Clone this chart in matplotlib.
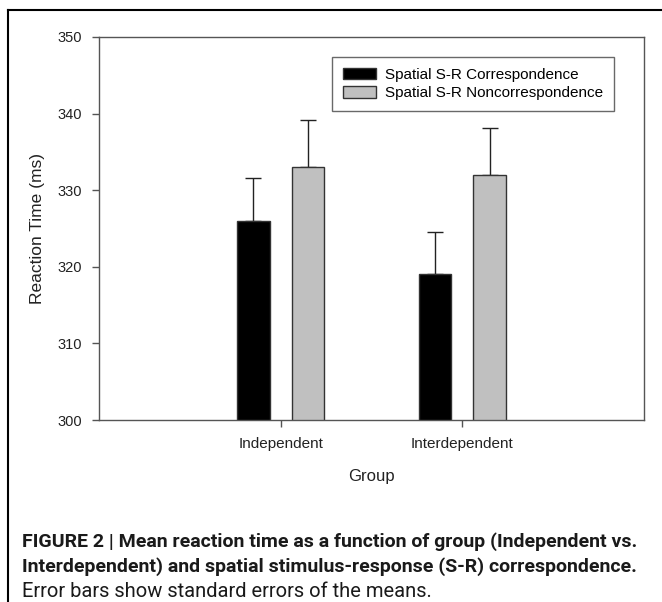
import numpy as np
import matplotlib.pyplot as plt
from matplotlib.lines import Line2D

groups = ['Independent', 'Interdependent']
series = ['Spatial S-R Correspondence', 'Spatial S-R Noncorrespondence']
corr_rt = [326, 319]
corr_se = [5.6, 5.6]
noncorr_rt = [333, 332]
noncorr_se = [6.1, 6.1]

W, H = 662, 602
fig = plt.figure(figsize=(W / 100, H / 100), dpi=100)
plt.rcParams['font.family'] = ['Liberation Sans', 'DejaVu Sans']

# axes placed in pixel coords from the reference
ax = fig.add_axes([99 / W, 1 - 420 / H, (644 - 99) / W, (420 - 37) / H])

x = np.arange(1, len(groups) + 1)
bw = 0.18
off = 0.15
edge = '#333333'
ax.bar(x - off, corr_rt, bw, color='black', edgecolor=edge, linewidth=1,
       label=series[0], zorder=2)
ax.bar(x + off, noncorr_rt, bw, color='#c0c0c0', edgecolor=edge, linewidth=1,
       label=series[1], zorder=2)
ax.errorbar(x - off, corr_rt, yerr=[np.zeros(2), corr_se], fmt='none', ecolor='#222222',
            elinewidth=1, capsize=5.5, capthick=1, zorder=1)
ax.errorbar(x + off, noncorr_rt, yerr=[np.zeros(2), noncorr_se], fmt='none', ecolor='#222222',
            elinewidth=1, capsize=5.5, capthick=1, zorder=1)

ax.set_xlim(0, 3)
ax.set_ylim(300, 350)
ax.set_yticks(np.arange(300, 351, 10))
ax.set_xticks(x)
ax.set_xticklabels(groups)
for s in ax.spines.values():
    s.set_color('#555555')
    s.set_linewidth(1)
ax.tick_params(colors='#555555', labelcolor='#222222', length=5, width=1)
ax.tick_params(axis='y', labelsize=10.5, pad=7)
ax.tick_params(axis='x', labelsize=11, pad=7)
ax.set_ylabel('Reaction Time (ms)', fontsize=12.5, color='#222222', labelpad=9)
ax.set_xlabel('Group', fontsize=12, color='#222222', labelpad=13)

leg = ax.legend(loc='upper left', bbox_to_anchor=(0.4275, 0.948), fontsize=11,
                frameon=True, fancybox=False, edgecolor='#444444', borderpad=0.7,
                handlelength=2.15, handleheight=0.8, handletextpad=0.65,
                labelspacing=0.3, borderaxespad=0)
leg.get_frame().set_linewidth(1)

# outer frame lines (top and left)
fig.add_artist(Line2D([8 / W, 1], [1 - 10 / H, 1 - 10 / H], color='black', linewidth=1.5))
fig.add_artist(Line2D([8 / W, 8 / W], [0, 1 - 10 / H], color='black', linewidth=1.5))

cap1 = 'FIGURE 2 | Mean reaction time as a function of group (Independent vs.'
cap2 = 'Interdependent) and spatial stimulus-response (S-R) correspondence.'
cap3 = 'Error bars show standard errors of the means.'
fig.text(22 / W, 1 - 542 / H, cap1, family='Roboto', weight='bold', fontsize=14,
         va='center', color='#1a1a1a')
fig.text(22 / W, 1 - 567 / H, cap2, family='Roboto', weight='bold', fontsize=14,
         va='center', color='#1a1a1a')
fig.text(22 / W, 1 - 601 / H, cap3, family='Roboto', fontsize=14.5,
         va='bottom', color='#1a1a1a')

fig.savefig('out.png', dpi=100)
